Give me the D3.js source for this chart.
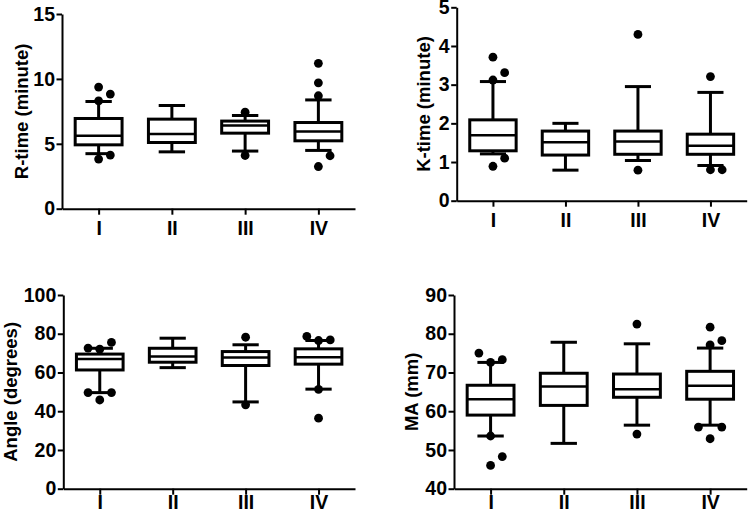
<!DOCTYPE html>
<html>
<head>
<meta charset="utf-8">
<script src="https://cdn.jsdelivr.net/npm/d3@7"></script>
<style>
  body { margin: 0; background: #fff; }
  svg { display: block; }
</style>
</head>
<body>
<div class="canvas"></div>
<script>
const categories = ["I", "II", "III", "IV"];

// R-time (minute)
const rTicks = [0, 5, 10, 15];
const rLow = [4.24, 4.38, 4.44, 4.49];
const rQ1 = [4.92, 5.1, 5.82, 5.23];
const rMedian = [5.62, 5.75, 6.41, 5.95];
const rQ3 = [6.95, 6.9, 6.75, 6.64];
const rHigh = [8.26, 7.95, 7.18, 8.38];
const rOutliers = [[8.3, 8.83, 9.37, 3.82, 4.13], [], [7.44, 4.1], [8.7, 9.7, 11.2, 3.25, 4.08]];

// K-time (minute)
const kTicks = [0, 1, 2, 3, 4, 5];
const kLow = [1.21, 0.79, 1.04, 0.91];
const kQ1 = [1.29, 1.18, 1.2, 1.2];
const kMedian = [1.69, 1.51, 1.53, 1.42];
const kQ3 = [2.09, 1.8, 1.8, 1.72];
const kHigh = [3.08, 2.0, 2.95, 2.8];
const kOutliers = [[3.12, 3.31, 3.71, 0.89, 1.1], [], [4.3, 0.79], [3.21, 0.8, 0.8]];

// Angle (degrees)
const aTicks = [0, 20, 40, 60, 80, 100];
const aLow = [49.6, 62.5, 44.8, 51.4];
const aQ1 = [61.3, 65.3, 63.6, 64.3];
const aMedian = [66.9, 68.2, 67.7, 67.9];
const aQ3 = [69.5, 72.5, 70.8, 72.2];
const aHigh = [72.5, 77.7, 74.3, 76.5];
const aOutliers = [[45.8, 49.6, 49.6, 72.0, 75.5, 72.6], [], [78.2, 43.3], [76.5, 76.8, 78.6, 51.3, 36.4]];

// MA (mm)
const mTicks = [40, 50, 60, 70, 80, 90];
const mLow = [53.6, 51.7, 56.4, 56.4];
const mQ1 = [59.0, 61.5, 63.6, 63.1];
const mMedian = [63.1, 66.4, 65.7, 66.6];
const mQ3 = [66.7, 69.8, 69.6, 70.3];
const mHigh = [72.6, 77.8, 77.4, 76.3];
const mOutliers = [[72.6, 73.3, 75.0, 53.6, 46.0, 48.3], [], [82.5, 54.1], [77.1, 81.7, 78.2, 52.9, 55.9, 55.9]];

const font = "'Liberation Sans', Arial, Helvetica, sans-serif";
const dotR = 4.4;
const dotGap = 11.7;

const panels = [
  { label: "R-time (minute)", ticks: rTicks, low: rLow, q1: rQ1, med: rMedian, q3: rQ3, high: rHigh, out: rOutliers,
    left: 62, right: 355, top: 14, bottom: 208.7, labelX: 21, xPad: 6 },
  { label: "K-time (minute)", ticks: kTicks, low: kLow, q1: kQ1, med: kMedian, q3: kQ3, high: kHigh, out: kOutliers,
    left: 456.7, right: 746.7, top: 7.3, bottom: 200.7, labelX: 423.5, xPad: 6 },
  { label: "Angle (degrees)", ticks: aTicks, low: aLow, q1: aQ1, med: aMedian, q3: aQ3, high: aHigh, out: aOutliers,
    left: 63.3, right: 355, top: 295, bottom: 488.7, labelX: 10.5, xPad: 0 },
  { label: "MA (mm)", ticks: mTicks, low: mLow, q1: mQ1, med: mMedian, q3: mQ3, high: mHigh, out: mOutliers,
    left: 454, right: 746.7, top: 295, bottom: 488.7, labelX: 411, xPad: 0 }
];

const svg = d3
  .select(".canvas")
  .append("svg")
  .attr("width", 750)
  .attr("height", 513);

// spread close points sideways, like Prism does
const placeDots = (values, cx, y) => {
  const placed = [];
  values.forEach(v => {
    const cy = y(v);
    for (const k of [0, 1, -1, 2, -2]) {
      const free = placed.every(p => p.k !== k || Math.abs(p.y - cy) >= 12);
      if (free) {
        placed.push({ k, x: cx + k * dotGap, y: cy });
        break;
      }
    }
  });
  return placed;
};

const drawPanel = p => {
  const y = d3
    .scaleLinear()
    .domain([p.ticks[0], p.ticks[p.ticks.length - 1]])
    .range([p.bottom, p.top]);
  const x = d3
    .scalePoint()
    .domain(categories)
    .range([p.left, p.right])
    .padding(0.5);
  const step = x.step();
  const boxW = step * 0.64;
  const capW = step * 0.36;

  const g = svg.append("g");

  const yAxisGroup = g
    .append("g")
    .attr("transform", `translate(${p.left},0)`)
    .call(
      d3
        .axisLeft(y)
        .tickValues(p.ticks)
        .tickFormat(d3.format("d"))
        .tickSize(5.5)
        .tickSizeOuter(0)
        .tickPadding(1.5)
    );
  const xAxisGroup = g
    .append("g")
    .attr("transform", `translate(0,${p.bottom})`)
    .call(d3.axisBottom(x).tickSize(6).tickSizeOuter(0).tickPadding(p.xPad));

  [yAxisGroup, xAxisGroup].forEach(a => {
    a.attr("font-family", font).attr("font-size", 19.5).attr("font-weight", "bold");
    a.selectAll("path, line").attr("stroke", "#000").attr("stroke-width", 2);
    a.selectAll("text").attr("fill", "#000");
  });

  g.append("text")
    .attr("transform", `translate(${p.labelX},${(p.top + p.bottom) / 2}) rotate(-90)`)
    .attr("text-anchor", "middle")
    .attr("dominant-baseline", "central")
    .attr("font-family", font)
    .attr("font-size", 18.5)
    .attr("font-weight", "bold")
    .text(p.label);

  categories.forEach((c, i) => {
    const cx = x(c);
    const box = g.append("g").attr("stroke", "#000").attr("fill", "none").attr("stroke-width", 3);

    // whiskers and caps
    box.append("line")
      .attr("x1", cx).attr("x2", cx)
      .attr("y1", y(p.q3[i])).attr("y2", y(p.high[i]));
    box.append("line")
      .attr("x1", cx).attr("x2", cx)
      .attr("y1", y(p.q1[i])).attr("y2", y(p.low[i]));
    [p.high[i], p.low[i]].forEach(v => {
      box.append("line")
        .attr("x1", cx - capW / 2).attr("x2", cx + capW / 2)
        .attr("y1", y(v)).attr("y2", y(v));
    });

    box.append("rect")
      .attr("x", cx - boxW / 2)
      .attr("width", boxW)
      .attr("y", y(p.q3[i]))
      .attr("height", y(p.q1[i]) - y(p.q3[i]))
      .attr("fill", "#fff");
    box.append("line")
      .attr("x1", cx - boxW / 2).attr("x2", cx + boxW / 2)
      .attr("y1", y(p.med[i])).attr("y2", y(p.med[i]))
      .attr("stroke-width", 2.5);

    g.selectAll(null)
      .data(placeDots(p.out[i], cx, y))
      .enter()
      .append("circle")
      .attr("cx", d => d.x)
      .attr("cy", d => d.y)
      .attr("r", dotR)
      .attr("fill", "#000");
  });
};

panels.forEach(drawPanel);
</script>
</body>
</html>
